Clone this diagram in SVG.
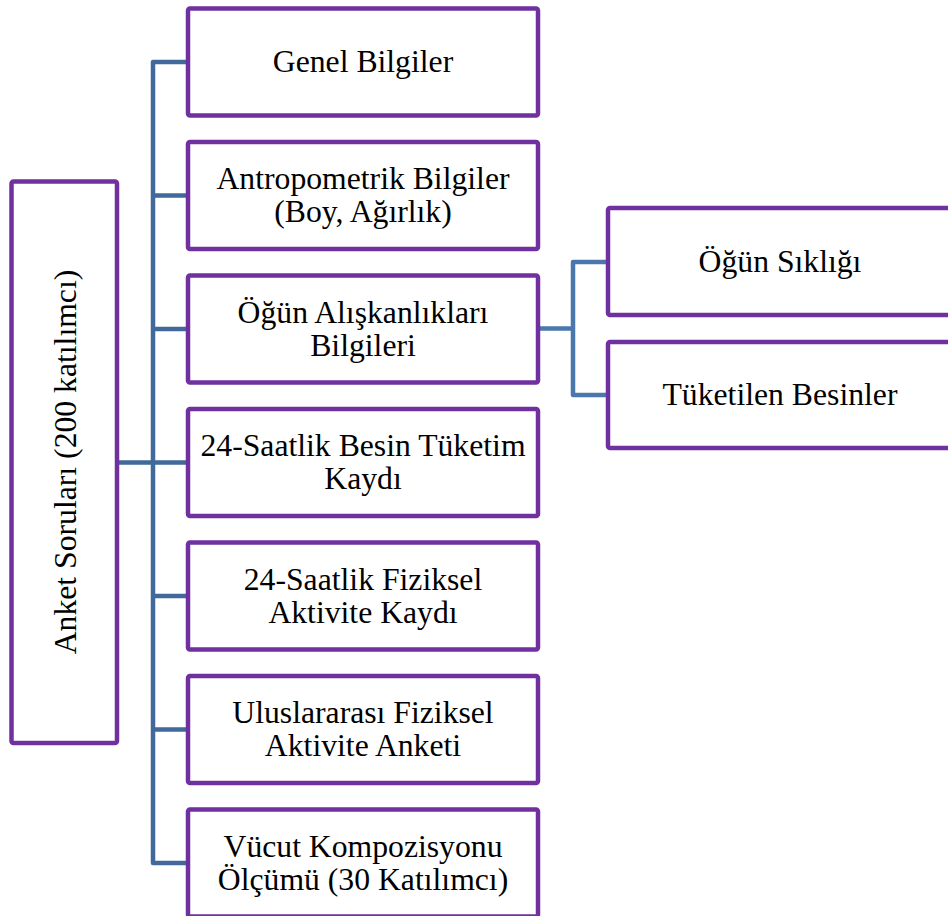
<svg xmlns="http://www.w3.org/2000/svg" width="948" height="916" viewBox="0 0 948 916">
<style>
.box{fill:#fff;stroke:#7030A0;stroke-width:4.5;stroke-linejoin:round}
.t{font-family:"Liberation Serif","Times New Roman",serif;font-size:31.7px;fill:#000;text-anchor:middle}
.c{fill:none;stroke:#41699B;stroke-width:4.5;stroke-linejoin:round}
.c2{fill:none;stroke:#4A78AE;stroke-width:4.5;stroke-linejoin:round}
</style>
<rect width="948" height="916" fill="#fff"/>
<g id="connectors">
<path class="c" d="M188,62 H153 V863 H188 M153,195.5 H188 M153,329 H188 M117,462.5 H188 M153,596 H188 M153,729.5 H188"/>
<path class="c2" d="M538,328.5 H573 M608,262 H573 V395 H608"/>
</g>
<g id="root">
<rect class="box" x="11.5" y="181.5" width="105.5" height="561.5" rx="2"/>
<text class="t" transform="translate(76,462) rotate(-90)">Anket Soruları (200 katılımcı)</text>
</g>
<g id="n1">
<rect class="box" x="188" y="8.5" width="350" height="107" rx="2"/>
<text class="t" x="363" y="72">Genel Bilgiler</text>
</g>
<g id="n2">
<rect class="box" x="188" y="142" width="350" height="107" rx="2"/>
<text class="t" x="363" y="189">Antropometrik Bilgiler</text>
<text class="t" x="363" y="222">(Boy, Ağırlık)</text>
</g>
<g id="n3">
<rect class="box" x="188" y="275.5" width="350" height="107" rx="2"/>
<text class="t" x="363" y="322.5">Öğün Alışkanlıkları</text>
<text class="t" x="363" y="355.5">Bilgileri</text>
</g>
<g id="n4">
<rect class="box" x="188" y="409" width="350" height="107" rx="2"/>
<text class="t" x="363" y="456">24-Saatlik Besin Tüketim</text>
<text class="t" x="363" y="489">Kaydı</text>
</g>
<g id="n5">
<rect class="box" x="188" y="542.5" width="350" height="107" rx="2"/>
<text class="t" x="363" y="589.5">24-Saatlik Fiziksel</text>
<text class="t" x="363" y="622.5">Aktivite Kaydı</text>
</g>
<g id="n6">
<rect class="box" x="188" y="676" width="350" height="107" rx="2"/>
<text class="t" x="363" y="723">Uluslararası Fiziksel</text>
<text class="t" x="363" y="756">Aktivite Anketi</text>
</g>
<g id="n7">
<rect class="box" x="188" y="809.5" width="350" height="107" rx="2"/>
<text class="t" x="363" y="856.5">Vücut Kompozisyonu</text>
<text class="t" x="363" y="889.5">Ölçümü (30 Katılımcı)</text>
</g>
<g id="s1">
<rect class="box" x="608" y="208" width="344" height="107" rx="2"/>
<text class="t" x="780" y="272">Öğün Sıklığı</text>
</g>
<g id="s2">
<rect class="box" x="608" y="342" width="344" height="106" rx="2"/>
<text class="t" x="780" y="405">Tüketilen Besinler</text>
</g>
</svg>
